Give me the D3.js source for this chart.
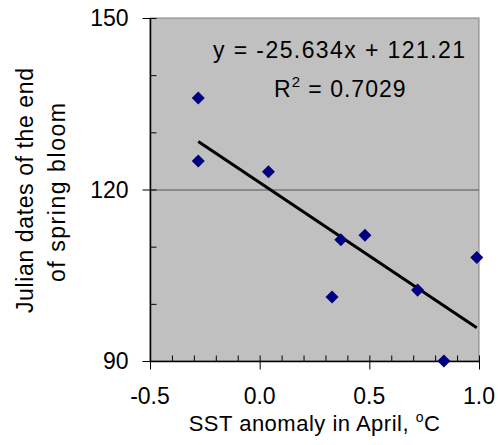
<!DOCTYPE html>
<html>
<head>
<meta charset="utf-8">
<script src="https://cdn.jsdelivr.net/npm/d3@7"></script>
<style>
  html, body { margin: 0; padding: 0; background: #fff; }
  svg text { font-family: "Liberation Sans", Arial, sans-serif; fill: #000; }
</style>
</head>
<body>
<div id="chart"></div>
<script>
// SST anomaly in April (x) vs Julian date of the end of the spring bloom (y)
const sstAnomaly = [-0.28, -0.28, 0.04, 0.37, 0.48, 0.33, 0.72, 0.99, 0.84]
const bloomEndDay = [136, 125, 123.1, 111.2, 112, 101.2, 102.4, 108.1, 90]

// linear trendline as printed on the chart
const slope = -25.634
const intercept = 121.21
const rSquared = 0.7029

const xTicks = [-0.5, 0.0, 0.5, 1.0]
const xMinorTicks = [-0.4, -0.3, -0.2, -0.1, 0.1, 0.2, 0.3, 0.4, 0.6, 0.7, 0.8, 0.9]
const yTicks = [90, 120, 150]
const yMinorTicks = [100, 110, 130, 140]
const yGrid = [120]
const yTitleLines = ["Julian dates of the end", "of spring bloom"]

const width = 498
const height = 445
const plot = { left: 150, right: 479, top: 18, bottom: 361 }

const svg = d3.select("#chart")
  .append("svg")
  .attr("width", width)
  .attr("height", height)

const x = d3.scaleLinear().domain([-0.5, 1.0]).range([plot.left, plot.right])
const y = d3.scaleLinear().domain([90, 150]).range([plot.bottom, plot.top])

// plot area
svg.append("rect")
  .attr("x", plot.left)
  .attr("y", plot.top)
  .attr("width", plot.right - plot.left)
  .attr("height", plot.bottom - plot.top)
  .attr("fill", "#c0c0c0")
  .attr("stroke", "#808080")
  .attr("stroke-width", 1)

// gridline
svg.append("g")
  .selectAll("line")
  .data(yGrid)
  .join("line")
  .attr("x1", plot.left)
  .attr("x2", plot.right)
  .attr("y1", (d) => y(d) + 0.5)
  .attr("y2", (d) => y(d) + 0.5)
  .attr("stroke", "#555")
  .attr("stroke-width", 1)

// axes: major ticks cross the axis, minor ticks point inward
const xAxis = svg.append("g").attr("transform", `translate(0,${plot.bottom + 0.5})`)
xAxis.append("line")
  .attr("x1", plot.left).attr("x2", plot.right)
  .attr("stroke", "#000").attr("stroke-width", 1.5)
xAxis.selectAll("line.major")
  .data(xTicks)
  .join("line")
  .attr("class", "major")
  .attr("x1", (d) => x(d) + 0.5).attr("x2", (d) => x(d) + 0.5)
  .attr("y1", -6).attr("y2", 8)
  .attr("stroke", "#000")
xAxis.selectAll("line.minor")
  .data(xMinorTicks)
  .join("line")
  .attr("class", "minor")
  .attr("x1", (d) => x(d) + 0.5).attr("x2", (d) => x(d) + 0.5)
  .attr("y1", -6).attr("y2", 0)
  .attr("stroke", "#000")
xAxis.selectAll("text")
  .data(xTicks)
  .join("text")
  .attr("x", (d) => x(d))
  .attr("y", 42)
  .attr("text-anchor", "middle")
  .style("font-size", "23px")
  .text((d) => d3.format(".1f")(d).replace("\u2212", "-"))

const yAxis = svg.append("g").attr("transform", `translate(${plot.left + 0.5},0)`)
yAxis.append("line")
  .attr("y1", plot.top).attr("y2", plot.bottom)
  .attr("stroke", "#000").attr("stroke-width", 1.5)
yAxis.selectAll("line.major")
  .data(yTicks)
  .join("line")
  .attr("class", "major")
  .attr("y1", (d) => y(d) + 0.5).attr("y2", (d) => y(d) + 0.5)
  .attr("x1", -8).attr("x2", 6)
  .attr("stroke", "#000")
yAxis.selectAll("line.minor")
  .data(yMinorTicks)
  .join("line")
  .attr("class", "minor")
  .attr("y1", (d) => y(d) + 0.5).attr("y2", (d) => y(d) + 0.5)
  .attr("x1", 0).attr("x2", 6)
  .attr("stroke", "#000")
yAxis.selectAll("text")
  .data(yTicks)
  .join("text")
  .attr("x", -22)
  .attr("y", (d) => y(d))
  .attr("dy", "0.36em")
  .attr("text-anchor", "end")
  .style("font-size", "23px")
  .text((d) => d)

// trendline over the data range
const xExtent = d3.extent(sstAnomaly)
svg.append("line")
  .attr("x1", x(xExtent[0]))
  .attr("y1", y(slope * xExtent[0] + intercept))
  .attr("x2", x(xExtent[1]))
  .attr("y2", y(slope * xExtent[1] + intercept))
  .attr("stroke", "#000")
  .attr("stroke-width", 3)

// data points, squares turned into diamonds
const diamond = d3.symbol().type(d3.symbolSquare).size(85)
svg.append("g")
  .selectAll("path")
  .data(sstAnomaly.map((v, i) => [v, bloomEndDay[i]]))
  .join("path")
  .attr("d", diamond)
  .attr("transform", (d) => `translate(${x(d[0])},${y(d[1])}) rotate(45)`)
  .attr("fill", "#000080")

// equation label
svg.append("text")
  .attr("x", 213)
  .attr("y", 58)
  .attr("textLength", 252)
  .attr("lengthAdjust", "spacing")
  .style("font-size", "23px")
  .text(`y = ${slope}x + ${intercept}`)

const r2 = svg.append("text")
  .attr("x", 274)
  .attr("y", 97)
  .style("font-size", "23px")
  .style("letter-spacing", "1px")
r2.append("tspan").text("R")
r2.append("tspan").attr("dy", -10).style("font-size", "15px").text("2")
r2.append("tspan").attr("dy", 10).text(` = ${rSquared}`)

// axis titles
const xTitle = svg.append("text")
  .attr("x", (plot.left + plot.right) / 2)
  .attr("y", 431)
  .attr("text-anchor", "middle")
  .style("font-size", "22px")
  .style("letter-spacing", "0.5px")
xTitle.append("tspan").text("SST anomaly in April, ")
xTitle.append("tspan").attr("dy", -9).style("font-size", "14px").text("o")
xTitle.append("tspan").attr("dy", 9).text("C")

const yTitleLengths = [245, 179]
svg.append("g")
  .selectAll("text")
  .data(yTitleLines)
  .join("text")
  .attr("transform", (d, i) => `translate(${i === 0 ? 33 : 65},${i === 0 ? 190.5 : 192.5}) rotate(-90)`)
  .attr("x", (d, i) => -yTitleLengths[i] / 2)
  .attr("textLength", (d, i) => yTitleLengths[i])
  .attr("lengthAdjust", "spacing")
  .style("font-size", "23px")
  .text((d) => d)
</script>
</body>
</html>
